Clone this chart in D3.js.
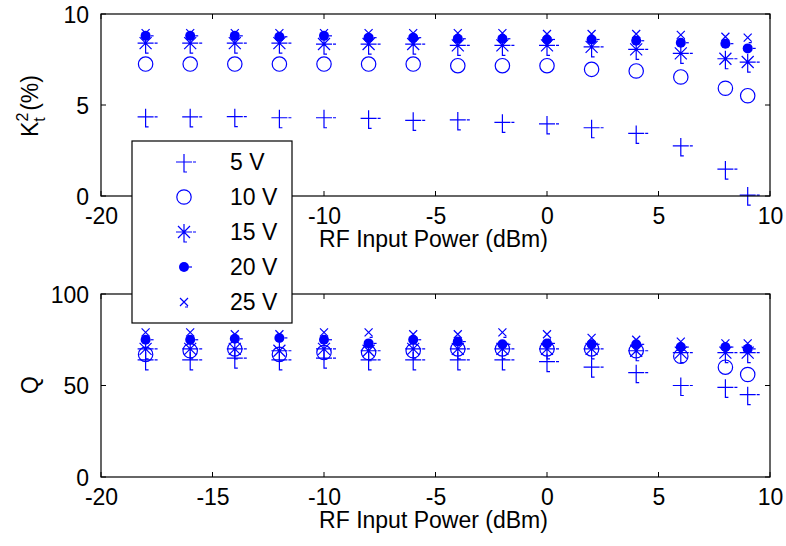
<!DOCTYPE html>
<html><head><meta charset="utf-8">
<script src="https://cdn.jsdelivr.net/npm/d3@7"></script>
<style>body{margin:0;background:#fff}text{font-family:"Liberation Sans",Arial,sans-serif;fill:#000}</style>
</head><body><svg id="c" width="786" height="546"></svg>
<script>
const power = [-18,-16,-14,-12,-10,-8,-6,-4,-2,0,2,4,6,8,9];
const seriesNames = ["5 V","10 V","15 V","20 V","25 V"];
const k5  = [4.35,4.35,4.36,4.3,4.3,4.27,4.16,4.18,4.05,3.96,3.75,3.44,2.75,1.48,0.05];
const k10 = [7.25,7.25,7.25,7.25,7.25,7.25,7.25,7.16,7.16,7.16,6.96,6.87,6.54,5.92,5.51];
const k15 = [8.4,8.4,8.4,8.4,8.35,8.35,8.35,8.28,8.28,8.28,8.19,8.06,7.84,7.54,7.36];
const k20 = [8.8,8.8,8.8,8.75,8.8,8.7,8.7,8.64,8.64,8.6,8.6,8.53,8.42,8.37,8.11];
const k25 = [8.95,8.95,8.95,8.95,8.95,8.95,8.95,8.95,8.95,8.9,8.9,8.9,8.85,8.75,8.7];
const q5  = [64,64,65,64,65,64,64,64,64,63,60,57,50,49,45];
const q10 = [67,69,70,67,68,68,69,70,70,70,70,69,66,60,56];
const q15 = [70,70,70,69,70,69,70,70,70,70,70,69,68,68,68];
const q20 = [75,75,75.5,76,75,73,75,74,72.5,73,72.5,72.5,71,71,70];
const q25 = [79,79,78,78,79,79,78,78,79,78,76,75,74,73,73];
const xTicks = [-20,-15,-10,-5,0,5,10];
const kTicks = [0,5,10];
const qTicks = [0,50,100];

const svg = d3.select("#c");
const blue = "#0000ff";
const markerPaths = {
  plus: "M-8,0H8M0,-8V8M9,0H12M0,8V10H3",
  ast: "M-8,0H8M0,-8V8M-6,-6L6,6M-6,6L6,-6M9,0H12M0,8V10H3",
  xm: "M-4,-4L4,4M-4,4L4,-4M1,5H4"
};
function drawMarker(g, type, x, y){
  if(type==="circle"){
    g.append("circle").attr("cx",x).attr("cy",y).attr("r",7.2).attr("fill","none").attr("stroke",blue).attr("stroke-width",1.2);
  } else if(type==="dot"){
    g.append("circle").attr("cx",x).attr("cy",y).attr("r",5).attr("fill",blue);
    g.append("path").attr("d","M5,0H8").attr("transform",`translate(${x},${y})`).attr("stroke",blue).attr("stroke-width",1.2);
  } else {
    g.append("path").attr("d",markerPaths[type]).attr("transform",`translate(${x},${y})`).attr("fill","none").attr("stroke",blue).attr("stroke-width",1.2);
  }
}
const types = ["plus","circle","ast","dot","xm"];
const fs = 23;
const fmt = d => String(d);

function panel(top, bottom, yDomain, yTicks, series){
  const x = d3.scaleLinear().domain([-20,10]).range([101,770]);
  const y = d3.scaleLinear().domain(yDomain).range([bottom,top]);
  const g = svg.append("g");
  series.forEach((s,i)=>{
    s.forEach((v,j)=>drawMarker(g, types[i], x(power[j]), y(v)));
  });
  g.append("rect").attr("x",x(-20)).attr("y",top).attr("width",x(10)-x(-20)).attr("height",bottom-top).attr("fill","none").attr("stroke","#000").attr("stroke-width",1.2);
  const tl = 5;
  const xa = d3.axisBottom(x).tickValues(xTicks).tickFormat(fmt).tickSize(0).tickPadding(0);
  const xg = g.append("g").attr("transform",`translate(0,${bottom})`).call(xa);
  xg.select(".domain").remove();
  xg.selectAll("text").attr("font-size",fs).attr("font-family","Liberation Sans, Arial, sans-serif").attr("fill","#000").attr("y",28).attr("dy",null);
  const ya = d3.axisLeft(y).tickValues(yTicks).tickFormat(fmt).tickSize(0).tickPadding(12);
  const yg = g.append("g").attr("transform",`translate(${x(-20)},0)`).call(ya);
  yg.select(".domain").remove();
  yg.selectAll("text").attr("font-size",fs).attr("font-family","Liberation Sans, Arial, sans-serif").attr("fill","#000").attr("dy","0.36em");
  xTicks.forEach(t=>{
    g.append("line").attr("x1",x(t)).attr("x2",x(t)).attr("y1",bottom).attr("y2",bottom-tl).attr("stroke","#000");
    g.append("line").attr("x1",x(t)).attr("x2",x(t)).attr("y1",top).attr("y2",top+tl).attr("stroke","#000");
  });
  yTicks.forEach(t=>{
    g.append("line").attr("x1",x(-20)).attr("x2",x(-20)+tl).attr("y1",y(t)).attr("y2",y(t)).attr("stroke","#000");
    g.append("line").attr("x1",x(10)).attr("x2",x(10)-tl).attr("y1",y(t)).attr("y2",y(t)).attr("stroke","#000");
  });
  g.append("text").attr("x",(x(-20)+x(10))/2 - 2).attr("y",bottom+51).attr("text-anchor","middle").attr("font-size",fs).text("RF Input Power (dBm)");
  return {x,y,g};
}

panel(14,196,[0,10],kTicks,[k5,k10,k15,k20,k25]);
panel(294,477,[0,100],qTicks,[q5,q10,q15,q20,q25]);

const kl = svg.append("text").attr("transform","translate(38,106) rotate(-90)").attr("text-anchor","middle").attr("font-size",fs);
kl.append("tspan").text("K");
kl.append("tspan").attr("font-size",16).attr("dy",-10).text("2");
kl.append("tspan").attr("font-size",16).attr("dx",-9).attr("dy",17).text("t");
kl.append("tspan").attr("dy",-7).text(" (%)");
svg.append("text").attr("transform","translate(38,385) rotate(-90)").attr("text-anchor","middle").attr("font-size",fs).text("Q");

const lg = svg.append("g");
lg.append("rect").attr("x",132).attr("y",141).attr("width",160).attr("height",182).attr("fill","#fff").attr("stroke","#000").attr("stroke-width",1.2);
const ly = d3.scalePoint().domain(seriesNames).range([162,302]);
seriesNames.forEach((n,i)=>{
  drawMarker(lg, types[i], 184, ly(n));
  lg.append("text").attr("x",230).attr("y",ly(n)).attr("dy","0.36em").attr("font-size",fs).text(n);
});
</script></body></html>
